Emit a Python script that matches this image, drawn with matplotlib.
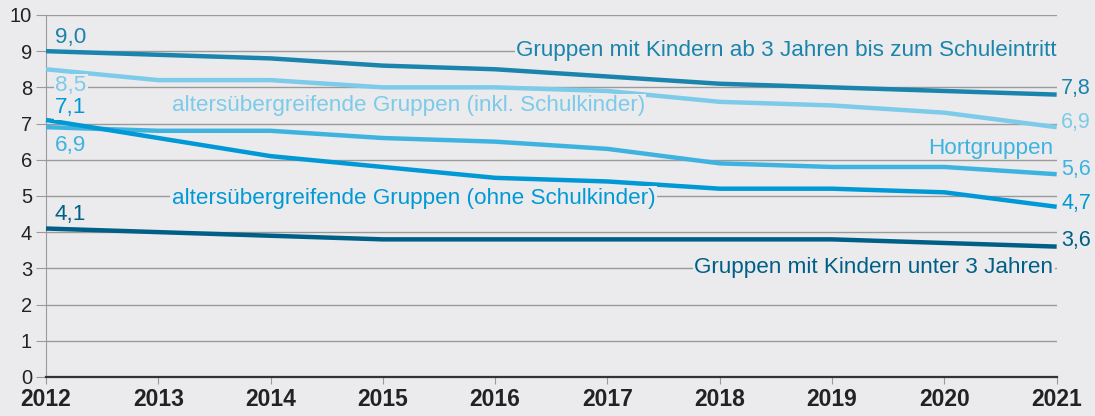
import matplotlib.pyplot as plt

years = [2012, 2013, 2014, 2015, 2016, 2017, 2018, 2019, 2020, 2021]
ab3 = [9.0, 8.9, 8.8, 8.6, 8.5, 8.3, 8.1, 8.0, 7.9, 7.8]
inkl_schul = [8.5, 8.2, 8.2, 8.0, 8.0, 7.9, 7.6, 7.5, 7.3, 6.9]
hort = [6.9, 6.8, 6.8, 6.6, 6.5, 6.3, 5.9, 5.8, 5.8, 5.6]
ohne_schul = [7.1, 6.6, 6.1, 5.8, 5.5, 5.4, 5.2, 5.2, 5.1, 4.7]
unter3 = [4.1, 4.0, 3.9, 3.8, 3.8, 3.8, 3.8, 3.8, 3.7, 3.6]

bg = '#ebebed'
c_ab3 = '#1a84ad'
c_inkl = '#7ccbe9'
c_hort = '#3fb3e0'
c_ohne = '#0099d6'
c_u3 = '#005f86'

plt.rcParams['font.family'] = ['Liberation Sans', 'DejaVu Sans']

fig = plt.figure(figsize=(10.95, 4.16), dpi=100, facecolor=bg)
ax = fig.add_axes([0.042, 0.094, 0.923, 0.87], facecolor=bg)

ax.set_xlim(2012, 2021)
ax.set_ylim(0, 10)
ax.set_yticks(range(0, 11))
ax.set_xticks(years)
ax.set_xticklabels([str(y) for y in years], fontweight='bold')
ax.grid(axis='y', color='#9a9a9a', lw=1)
ax.set_axisbelow(True)
for s in ['top', 'right']:
    ax.spines[s].set_visible(False)
ax.spines['left'].set_color('#9a9a9a')
ax.spines['bottom'].set_color('#333333')
ax.spines['bottom'].set_linewidth(1.6)
ax.tick_params(axis='y', length=7, color='#9a9a9a', labelsize=14.5, pad=3, labelcolor='#222222')
ax.tick_params(axis='x', length=5, color='#9a9a9a', labelsize=16.5, pad=3, labelcolor='#222222')

series = [(ab3, c_ab3), (inkl_schul, c_inkl), (hort, c_hort), (ohne_schul, c_ohne), (unter3, c_u3)]
for vals, c in series:
    ax.plot(years, vals, color=c, lw=3.2, solid_capstyle='butt', clip_on=False, zorder=3)

box = dict(facecolor=bg, edgecolor='none', pad=1)
fs = 16.2

ax.text(2021, 9.03, 'Gruppen mit Kindern ab 3 Jahren bis zum Schuleintritt', color=c_ab3,
        ha='right', va='center', fontsize=fs, bbox=box)
ax.text(2013.12, 7.49, 'altersübergreifende Gruppen (inkl. Schulkinder)', color=c_inkl,
        ha='left', va='center', fontsize=fs, bbox=box)
ax.text(2020.97, 6.3, 'Hortgruppen', color=c_hort, ha='right', va='center', fontsize=fs)
ax.text(2013.12, 4.94, 'altersübergreifende Gruppen (ohne Schulkinder)', color=c_ohne,
        ha='left', va='center', fontsize=fs, bbox=box)
ax.text(2020.97, 3.01, 'Gruppen mit Kindern unter 3 Jahren', color=c_u3,
        ha='right', va='center', fontsize=fs, bbox=box)

def fmt(v):
    return ('%.1f' % v).replace('.', ',')

start_y = [9.38, 8.05, 6.38, 7.43, 4.5]
end_y = [7.98, 7.04, 5.72, 4.78, 3.78]
for (vals, c), sy, ey in zip(series, start_y, end_y):
    ax.text(2012.08, sy, fmt(vals[0]), color=c, ha='left', va='center', fontsize=fs, bbox=box, zorder=4)
    ax.text(2021.04, ey, fmt(vals[-1]), color=c, ha='left', va='center', fontsize=15.5,
            clip_on=False, zorder=4)

fig.savefig('out.png', dpi=100, facecolor=bg)
